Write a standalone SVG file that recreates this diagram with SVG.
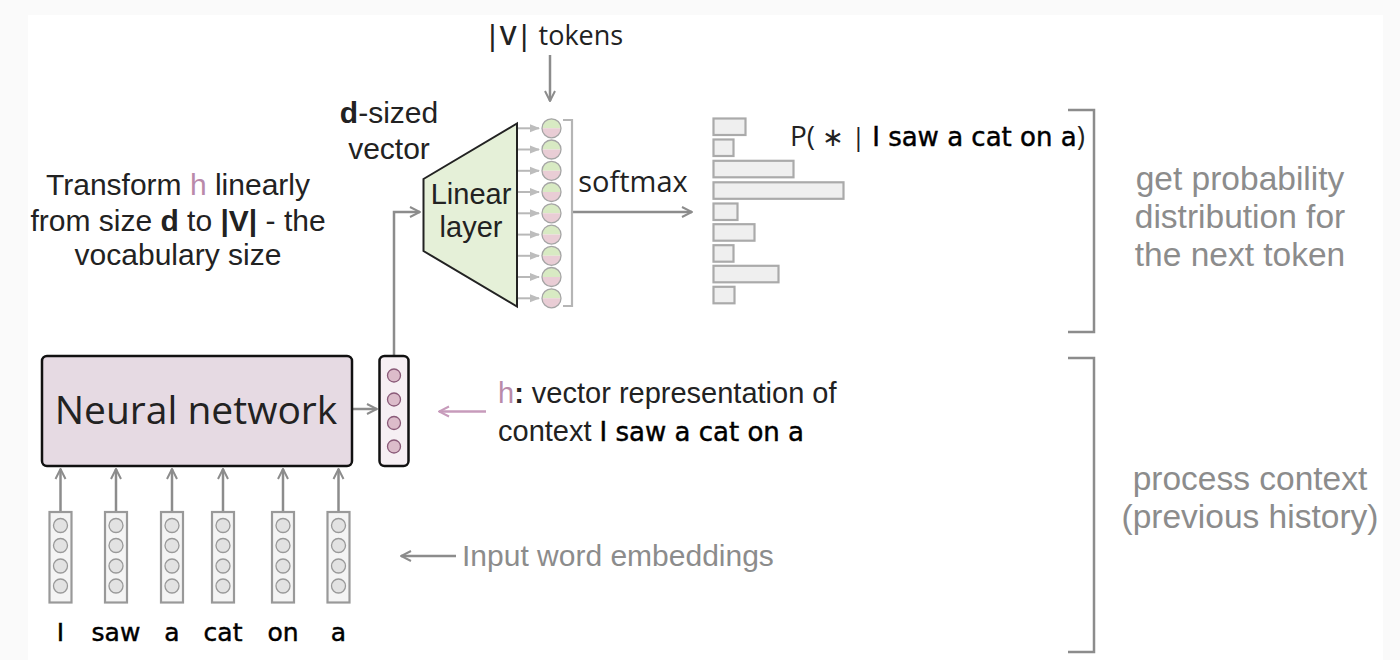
<svg xmlns="http://www.w3.org/2000/svg" width="1400" height="660" viewBox="0 0 1400 660">
<defs>
<style>
.t{font-family:"Open Sans","Noto Sans",sans-serif;fill:#222;}
.l{font-family:"Liberation Sans",Arial,sans-serif;fill:#222;}
.g{font-family:"Liberation Sans",Arial,sans-serif;fill:#8c8c8c;}
.c{font-family:"Comic Sans MS","DejaVu Sans",sans-serif;fill:#000;stroke:#000;stroke-width:0.45;}
.conn{stroke:#8c8c8c;stroke-width:2.5;fill:none;}
.thin{stroke:#b8b8b8;stroke-width:2;fill:none;}
.emb{fill:#f4f4f4;stroke:#999;stroke-width:2.2;}
.embc{fill:#e2e2e2;stroke:#999;stroke-width:1.3;}
.bar{fill:#efefef;stroke:#aaa;stroke-width:2.2;}
.br{stroke:#8c8c8c;stroke-width:2.5;fill:none;}
</style>
<marker id="ah" viewBox="0 0 10 10" refX="9" refY="5" markerWidth="5" markerHeight="5" orient="auto-start-reverse" markerUnits="strokeWidth">
<path d="M1,1 L9,5 L1,9" fill="none" stroke="#8c8c8c" stroke-width="1.6"/>
</marker>
<marker id="ahl" viewBox="0 0 10 10" refX="9" refY="5" markerWidth="5" markerHeight="5" orient="auto" markerUnits="strokeWidth">
<path d="M0,1 L10,5 L0,9 z" fill="#bdbdbd"/>
</marker>
<marker id="ahp" viewBox="0 0 10 10" refX="9" refY="5" markerWidth="5" markerHeight="5" orient="auto" markerUnits="strokeWidth">
<path d="M1,1 L9,5 L1,9" fill="none" stroke="#c79bbb" stroke-width="1.6"/>
</marker>
<g id="oc">
<path d="M-9.5,0 A9.5,9.5 0 0 1 9.5,0 Z" fill="#d8eac3"/>
<path d="M-9.5,0 A9.5,9.5 0 0 0 9.5,0 Z" fill="#e9cdd5"/>
<circle r="9.5" fill="none" stroke="#a5a5a5" stroke-width="1.3"/>
</g>
</defs>
<rect x="0" y="0" width="1400" height="660" fill="#fafafa"/>
<rect x="28" y="15" width="1355" height="645" fill="#ffffff"/>

<g id="connectors">
<line class="conn" x1="352" y1="409" x2="377" y2="409" marker-end="url(#ah)"/>
<polyline class="conn" points="394,356 394,212 420,212" marker-end="url(#ah)"/>
<line class="conn" x1="550" y1="55" x2="550" y2="101" marker-end="url(#ah)"/>
<line class="conn" x1="572" y1="212" x2="692" y2="212" marker-end="url(#ah)"/>
<line x1="486" y1="411.5" x2="439" y2="411.5" stroke="#c79bbb" stroke-width="2.5" marker-end="url(#ahp)"/>
<line class="conn" x1="456" y1="556" x2="401" y2="556" marker-end="url(#ah)"/>
<line class="conn" x1="60.5" y1="511" x2="60.5" y2="469" marker-end="url(#ah)"/>
<line class="conn" x1="116" y1="511" x2="116" y2="469" marker-end="url(#ah)"/>
<line class="conn" x1="172" y1="511" x2="172" y2="469" marker-end="url(#ah)"/>
<line class="conn" x1="223" y1="511" x2="223" y2="469" marker-end="url(#ah)"/>
<line class="conn" x1="283" y1="511" x2="283" y2="469" marker-end="url(#ah)"/>
<line class="conn" x1="338.5" y1="511" x2="338.5" y2="469" marker-end="url(#ah)"/>
<g class="thin">
<line x1="518" y1="128.3" x2="539" y2="128.3" marker-end="url(#ahl)"/>
<line x1="518" y1="149.5" x2="539" y2="149.5" marker-end="url(#ahl)"/>
<line x1="518" y1="170.8" x2="539" y2="170.8" marker-end="url(#ahl)"/>
<line x1="518" y1="192" x2="539" y2="192" marker-end="url(#ahl)"/>
<line x1="518" y1="213.3" x2="539" y2="213.3" marker-end="url(#ahl)"/>
<line x1="518" y1="234.6" x2="539" y2="234.6" marker-end="url(#ahl)"/>
<line x1="518" y1="255.8" x2="539" y2="255.8" marker-end="url(#ahl)"/>
<line x1="518" y1="277" x2="539" y2="277" marker-end="url(#ahl)"/>
<line x1="518" y1="298.3" x2="539" y2="298.3" marker-end="url(#ahl)"/>
</g>
</g>

<g id="neural-network">
<rect x="42" y="356" width="310" height="110" rx="5" fill="#e6dae3" stroke="#111" stroke-width="2.5"/>
<text class="t" x="196" y="424" font-size="39" text-anchor="middle">Neural network</text>
</g>

<g id="h-vector">
<rect x="379.5" y="356" width="29" height="110" rx="5" fill="#f6eff3" stroke="#111" stroke-width="2.5"/>
<g fill="#dcbcca" stroke="#8a5a78" stroke-width="1.3">
<circle cx="394" cy="375.5" r="6.5"/>
<circle cx="394" cy="399.5" r="6.5"/>
<circle cx="394" cy="423" r="6.5"/>
<circle cx="394" cy="446.5" r="6.5"/>
</g>
</g>

<g id="linear-layer">
<polygon points="423.5,179 517,123.5 517,306.5 423.5,251" fill="#e5f0d8" stroke="#222" stroke-width="2"/>
<text class="l" x="471" y="204" font-size="29" text-anchor="middle">Linear</text>
<text class="l" x="471" y="237" font-size="29" text-anchor="middle">layer</text>
</g>

<g id="output-vector">
<use href="#oc" x="551.5" y="128.3"/>
<use href="#oc" x="551.5" y="149.5"/>
<use href="#oc" x="551.5" y="170.8"/>
<use href="#oc" x="551.5" y="192"/>
<use href="#oc" x="551.5" y="213.3"/>
<use href="#oc" x="551.5" y="234.6"/>
<use href="#oc" x="551.5" y="255.8"/>
<use href="#oc" x="551.5" y="277"/>
<use href="#oc" x="551.5" y="298.3"/>
<polyline points="563,120 572,120 572,306 563,306" fill="none" stroke="#b5b5b5" stroke-width="2.2"/>
</g>

<g id="tokens-label">
<text class="t" x="485" y="45" font-size="27"><tspan font-weight="600">|V|</tspan> tokens</text>
</g>

<g id="d-sized-label">
<text class="l" x="389" y="123" font-size="30" text-anchor="middle"><tspan font-weight="bold">d</tspan>-sized</text>
<text class="l" x="389" y="159" font-size="30" text-anchor="middle">vector</text>
</g>

<g id="softmax-label">
<text class="t" x="633" y="192" font-size="29" text-anchor="middle">softmax</text>
</g>

<g id="distribution">
<rect class="bar" x="713.5" y="118.5" width="32" height="16.5"/>
<rect class="bar" x="713.5" y="139.5" width="20" height="16.5"/>
<rect class="bar" x="713.5" y="160.8" width="80" height="16.5"/>
<rect class="bar" x="713.5" y="182.3" width="130" height="16.5"/>
<rect class="bar" x="713.5" y="203.5" width="24" height="16.5"/>
<rect class="bar" x="713.5" y="224.2" width="41" height="16.5"/>
<rect class="bar" x="713.5" y="245.2" width="20" height="16.5"/>
<rect class="bar" x="713.5" y="265.8" width="65" height="16.5"/>
<rect class="bar" x="713.5" y="286.8" width="21" height="16.5"/>
<text x="790" y="146" font-size="26"><tspan class="t" font-size="28">P( </tspan><tspan class="t">∗ </tspan><tspan class="t" fill="#111">|</tspan><tspan class="t"> </tspan><tspan class="c">I saw a cat on a</tspan><tspan class="t" font-size="28">)</tspan></text>
</g>

<g id="transform-label">
<text class="l" x="178" y="195" font-size="30" text-anchor="middle">Transform <tspan fill="#b98aaa">h</tspan> linearly</text>
<text class="l" x="178" y="231" font-size="30" text-anchor="middle">from size <tspan font-weight="bold">d</tspan> to <tspan font-weight="bold">|V|</tspan> - the</text>
<text class="l" x="178" y="265" font-size="30" text-anchor="middle">vocabulary size</text>
</g>

<g id="h-label">
<text class="l" x="498" y="403" font-size="29"><tspan fill="#b98aaa">h</tspan><tspan font-weight="bold">:</tspan> vector representation of</text>
<text x="498" y="441" font-size="29"><tspan class="l">context </tspan><tspan class="c" font-size="26">I saw a cat on a</tspan></text>
</g>

<g id="embeddings">
<g>
<rect class="emb" x="49.5" y="512" width="22" height="90.5"/>
<circle class="embc" cx="60.5" cy="525.5" r="7"/><circle class="embc" cx="60.5" cy="545.5" r="7"/><circle class="embc" cx="60.5" cy="566" r="7"/><circle class="embc" cx="60.5" cy="586" r="7"/>
</g>
<g>
<rect class="emb" x="105" y="512" width="22" height="90.5"/>
<circle class="embc" cx="116" cy="525.5" r="7"/><circle class="embc" cx="116" cy="545.5" r="7"/><circle class="embc" cx="116" cy="566" r="7"/><circle class="embc" cx="116" cy="586" r="7"/>
</g>
<g>
<rect class="emb" x="161" y="512" width="22" height="90.5"/>
<circle class="embc" cx="172" cy="525.5" r="7"/><circle class="embc" cx="172" cy="545.5" r="7"/><circle class="embc" cx="172" cy="566" r="7"/><circle class="embc" cx="172" cy="586" r="7"/>
</g>
<g>
<rect class="emb" x="212" y="512" width="22" height="90.5"/>
<circle class="embc" cx="223" cy="525.5" r="7"/><circle class="embc" cx="223" cy="545.5" r="7"/><circle class="embc" cx="223" cy="566" r="7"/><circle class="embc" cx="223" cy="586" r="7"/>
</g>
<g>
<rect class="emb" x="272" y="512" width="22" height="90.5"/>
<circle class="embc" cx="283" cy="525.5" r="7"/><circle class="embc" cx="283" cy="545.5" r="7"/><circle class="embc" cx="283" cy="566" r="7"/><circle class="embc" cx="283" cy="586" r="7"/>
</g>
<g>
<rect class="emb" x="327.5" y="512" width="22" height="90.5"/>
<circle class="embc" cx="338.5" cy="525.5" r="7"/><circle class="embc" cx="338.5" cy="545.5" r="7"/><circle class="embc" cx="338.5" cy="566" r="7"/><circle class="embc" cx="338.5" cy="586" r="7"/>
</g>
<text class="g" x="462" y="566" font-size="30">Input word embeddings</text>
</g>

<g id="words">
<text class="c" font-size="25" text-anchor="middle" y="641">
<tspan x="60.5">I</tspan><tspan x="116">saw</tspan><tspan x="172">a</tspan><tspan x="223">cat</tspan><tspan x="283">on</tspan><tspan x="338.5">a</tspan>
</text>
</g>

<g id="brackets">
<polyline class="br" points="1068,110 1094,110 1094,332 1068,332"/>
<polyline class="br" points="1068,358 1094,358 1094,652 1068,652"/>
<text class="g" x="1240" y="190" font-size="33.5" text-anchor="middle">get probability</text>
<text class="g" x="1240" y="228" font-size="33.5" text-anchor="middle">distribution for</text>
<text class="g" x="1240" y="266" font-size="33.5" text-anchor="middle">the next token</text>
<text class="g" x="1250" y="490" font-size="33.5" text-anchor="middle">process context</text>
<text class="g" x="1250" y="528" font-size="33.5" text-anchor="middle">(previous history)</text>
</g>
</svg>
